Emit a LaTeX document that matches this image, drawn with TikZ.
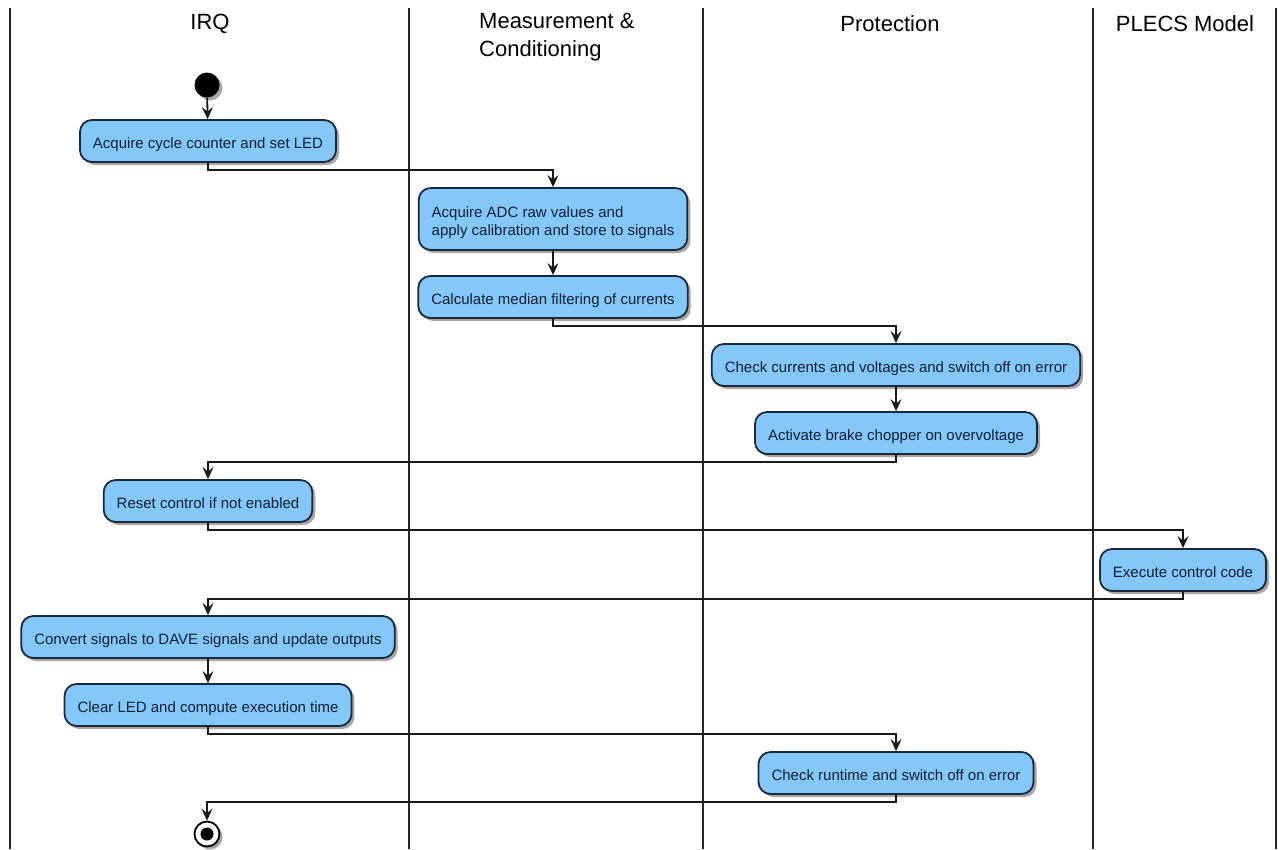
\documentclass[tikz,border=0pt]{standalone}
\usepackage{fontspec}
\setmainfont{Liberation Sans}
\usetikzlibrary{arrows.meta,shadows}

\definecolor{actfill}{RGB}{132,200,249}
\definecolor{actborder}{RGB}{28,40,58}
\definecolor{acttext}{RGB}{18,30,52}

\tikzset{
  act/.style={rectangle, rounded corners=12pt, draw=actborder, line width=1.8pt,
    fill=actfill, text=acttext, font=\fontsize{15}{18}\selectfont,
    minimum height=42pt, inner xsep=13pt, inner ysep=4pt,
    text height=18pt, text depth=3.2pt,
    drop shadow={shadow xshift=3pt, shadow yshift=-3pt, opacity=.35, fill=black}},
  twoline/.style={align=left, minimum height=62pt, text height=36pt},
  lane/.style={line width=2.4pt, draw=black!85},
  lanetitle/.style={font=\fontsize{22}{28}\selectfont, text=black, inner sep=0pt},
  flow/.style={line width=1.8pt, draw=black!90,
    -{Stealth[length=12pt,width=11pt,inset=4.5pt]}},
  shadowed/.style={drop shadow={shadow xshift=3pt, shadow yshift=-3pt, opacity=.35, fill=black}},
}

\begin{document}
\begin{tikzpicture}[x=1pt,y=-1pt]
\useasboundingbox (0,0) rectangle (1279,849);
\fill[white] (0,0) rectangle (1279,849);

% swimlane borders
\foreach \xx in {10,409,703,1093,1276}
  \draw[lane] (\xx,8) -- (\xx,849);

% swimlane titles
\node[lanetitle] (tirq) at (210,24) {IRQ};
\node[lanetitle, align=left, anchor=north west] (tmeas) at (479,13) {Measurement \&\\Conditioning};
\node[lanetitle] (tprot) at (890,24) {Protection};
\node[lanetitle] (tplecs) at (1185,24) {PLECS Model};

% start and activities
\node[circle, fill=black, minimum size=25pt, inner sep=0pt, shadowed] (start) at (207,85) {};

\node[act] (a1) at (208,141) {Acquire cycle counter and set LED};
\node[act, twoline] (a2) at (553,219)
  {Acquire ADC raw values and\\apply calibration and store to signals};
\node[act] (a3) at (553,297) {Calculate median filtering of currents};
\node[act] (a4) at (896,365) {Check currents and voltages and switch off on error};
\node[act] (a5) at (896,433) {Activate brake chopper on overvoltage};
\node[act] (a6) at (208,501) {Reset control if not enabled};
\node[act] (a7) at (1183,570) {Execute control code};
\node[act] (a8) at (208,637) {Convert signals to DAVE signals and update outputs};
\node[act] (a9) at (208,705) {Clear LED and compute execution time};
\node[act] (a10) at (896,773) {Check runtime and switch off on error};

% stop
\node[circle, draw=black, line width=1.8pt, fill=white, minimum size=25pt, inner sep=0pt, shadowed] (stop) at (207,834) {};
\fill[black] (stop.center) circle (6.5pt);

% control flow
\draw[flow] (start) -- (a1);
\draw[flow] (a1.south) -- ++(0,7) -| (a2.north);
\draw[flow] (a2) -- (a3);
\draw[flow] (a3.south) -- ++(0,7) -| (a4.north);
\draw[flow] (a4) -- (a5);
\draw[flow] (a5.south) -- ++(0,7) -| (a6.north);
\draw[flow] (a6.south) -- ++(0,7) -| (a7.north);
\draw[flow] (a7.south) -- ++(0,7) -| (a8.north);
\draw[flow] (a8) -- (a9);
\draw[flow] (a9.south) -- ++(0,7) -| (a10.north);
\draw[flow] (a10.south) -- ++(0,7) -| (stop.north);
\end{tikzpicture}
\end{document}
